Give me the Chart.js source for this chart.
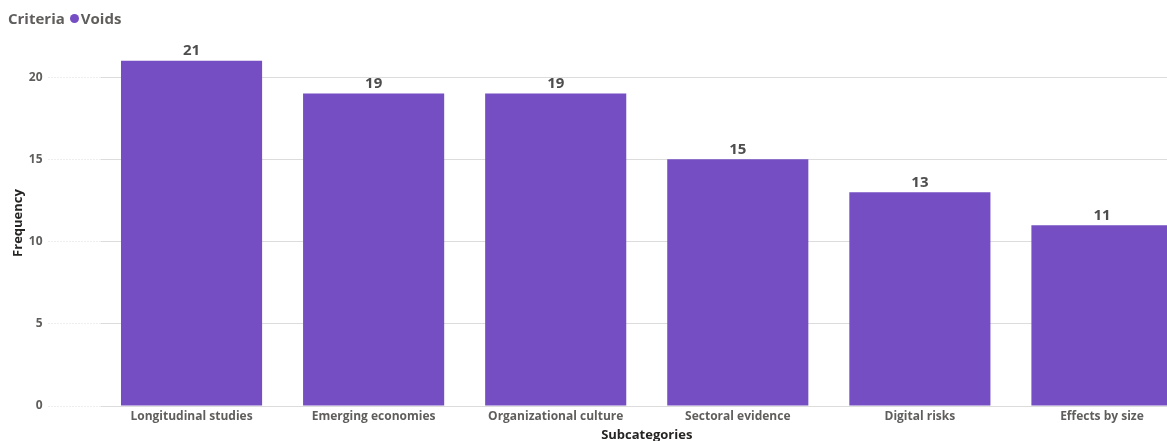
<!DOCTYPE html>
<html>
<head>
    <title>Voids by subcategory</title>
    <script src="https://cdn.jsdelivr.net/npm/chart.js"></script>
    <style>
        body {
            margin: 0;
            width: 1167px;
            height: 441px;
            overflow: hidden;
            background: #ffffff;
            font-family: "Open Sans", Arial, sans-serif;
        }

        .wrap {
            position: relative;
            width: 1193px;
            height: 441px;
        }

        .legend {
            position: absolute;
            left: 8px;
            top: 8px;
            font-size: 15px;
            font-weight: bold;
            color: #605e5c;
            white-space: nowrap;
            z-index: 2;
        }

        .legend .dot {
            display: inline-block;
            width: 9px;
            height: 9px;
            border-radius: 50%;
            background: #744ec2;
            margin: 0 2px 2px 5px;
            vertical-align: middle;
        }

        canvas {
            position: absolute;
            left: 0;
            top: 0;
        }
    </style>
</head>
<body>
    <div class="wrap">
        <div class="legend">Criteria<span class="dot"></span>Voids</div>
        <canvas id="voidsChart" width="1193" height="441"></canvas>
    </div>

    <script>
        var subcategories = ['Longitudinal studies', 'Emerging economies', 'Organizational culture', 'Sectoral evidence', 'Digital risks', 'Effects by size'];
        var voids = [21, 19, 19, 15, 13, 11];
        var yTicks = [0, 5, 10, 15, 20];

        // value labels above each bar
        var barValues = {
            id: 'barValues',
            afterDatasetsDraw: function(chart) {
                var ctx = chart.ctx;
                var meta = chart.getDatasetMeta(0);
                ctx.save();
                ctx.font = 'bold 15px "Open Sans", Arial, sans-serif';
                ctx.fillStyle = '#4d4d4d';
                ctx.textAlign = 'center';
                ctx.textBaseline = 'bottom';
                meta.data.forEach(function(bar, i) {
                    ctx.fillText(chart.data.datasets[0].data[i], bar.x, bar.y - 2);
                });
                ctx.restore();
            }
        };

        window.onload = function() {
            var ctx = document.getElementById('voidsChart').getContext('2d');
            new Chart(ctx, {
                type: 'bar',
                data: {
                    labels: subcategories,
                    datasets: [{
                        label: 'Voids',
                        data: voids,
                        backgroundColor: '#744ec2',
                        borderWidth: 0,
                        categoryPercentage: 0.775,
                        barPercentage: 1
                    }]
                },
                options: {
                    responsive: false,
                    animation: false,
                    layout: {
                        padding: { top: 40, right: 0, left: 0, bottom: -2 }
                    },
                    plugins: {
                        legend: { display: false },
                        tooltip: { enabled: false }
                    },
                    scales: {
                        x: {
                            grid: { display: false, drawTicks: false },
                            border: { display: false },
                            ticks: {
                                color: '#605e5c',
                                font: { family: '"Open Sans", Arial, sans-serif', size: 12, weight: 'bold' },
                                padding: 3,
                                maxRotation: 0,
                                autoSkip: false
                            },
                            title: {
                                display: true,
                                text: 'Subcategories',
                                color: '#252423',
                                font: { family: '"Open Sans", Arial, sans-serif', size: 13, weight: 'bold' },
                                padding: { top: 1, bottom: 0 }
                            }
                        },
                        y: {
                            min: 0,
                            max: 22.26,
                            afterBuildTicks: function(scale) {
                                scale.ticks = yTicks.map(function(v) { return { value: v }; });
                            },
                            afterFit: function(scale) {
                                scale.width = 100.5;
                            },
                            grid: {
                                color: '#dcdcdc',
                                lineWidth: 1,
                                borderDash: [1, 2],
                                drawTicks: true,
                                tickLength: 52,
                                tickColor: '#dcdcdc',
                                tickBorderDash: [1, 2]
                            },
                            border: { display: false },
                            ticks: {
                                color: '#605e5c',
                                font: { family: '"Open Sans", Arial, sans-serif', size: 12, weight: 'bold' },
                                padding: 6
                            },
                            title: {
                                display: true,
                                text: 'Frequency',
                                color: '#252423',
                                font: { family: '"Open Sans", Arial, sans-serif', size: 13, weight: 'bold' },
                                padding: { top: 10, bottom: 0 }
                            }
                        }
                    }
                },
                plugins: [barValues]
            });
        };
    </script>
</body>
</html>
